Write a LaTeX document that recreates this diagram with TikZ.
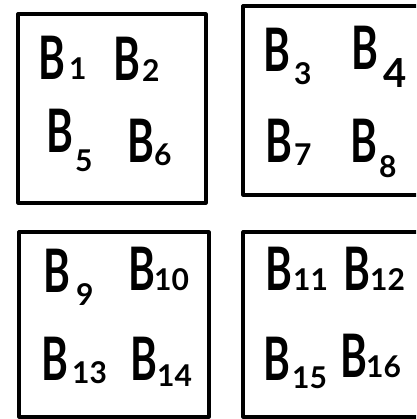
\documentclass[tikz,border=0pt]{standalone}
\usepackage{fontspec}
\setmainfont{Lato}
\usepackage{graphicx}
\tikzset{
  boxline/.style={line width=3.2pt, line join=round, line cap=round},
  bletter/.style={inner sep=0pt, anchor=base west, font=\bfseries\fontsize{60}{60}\selectfont},
  bsub/.style={inner sep=0pt, anchor=base west, font=\bfseries\fontsize{30}{30}\selectfont},
}
\newcommand{\Bl}{\scalebox{0.68}[1]{B}}
\begin{document}
\begin{tikzpicture}[x=1pt,y=-1pt]
\useasboundingbox (0,0) rectangle (416,419);
\clip (0,0) rectangle (416,419);
% boxes
\draw[boxline] (18,14) rectangle (206,203);
\draw[boxline] (243,6) rectangle (430,195);
\draw[boxline] (19,232) rectangle (209,417);
\draw[boxline] (243,232) rectangle (430,417);
% box 1
\node[bletter] (b1) at (38,80) {\Bl};
\node[bsub] (s1) at (69,80) {1};
\node[bletter] (b2) at (113,81) {\Bl};
\node[bsub] (s2) at (142,82) {2};
\node[bletter] (b5) at (46,153) {\Bl};
\node[bsub] (s5) at (75,172) {5};
\node[bletter] (b6) at (127,163) {\Bl};
\node[bsub] (s6) at (154,166) {6};
% box 2
\node[bletter] (b3) at (263,72) {\Bl};
\node[bsub] (s3) at (294,85) {3};
\node[bletter] (b4) at (351,70) {\Bl};
\node[bsub, font=\bfseries\fontsize{40}{40}\selectfont] (s4) at (383,88) {4};
\node[bletter] (b7) at (265,163) {\Bl};
\node[bsub] (s7) at (294,166) {7};
\node[bletter] (b8) at (350,163) {\Bl};
\node[bsub] (s8) at (379,178) {8};
% box 3
\node[bletter] (b9) at (43,292) {\Bl};
\node[bsub] (s9) at (76,305) {9};
\node[bletter] (b10) at (128,290) {\Bl};
\node[bsub] (s10) at (154,290) {10};
\node[bletter] (b13) at (41,380) {\Bl};
\node[bsub] (s13) at (72,383) {13};
\node[bletter] (b14) at (130,380) {\Bl};
\node[bsub] (s14) at (157,386) {14};
% box 4
\node[bletter] (b11) at (265,290) {\Bl};
\node[bsub] (s11) at (293,290) {11};
\node[bletter] (b12) at (343,290) {\Bl};
\node[bsub] (s12) at (370,290) {12};
\node[bletter] (b15) at (263,380) {\Bl};
\node[bsub] (s15) at (292,388) {15};
\node[bletter] (b16) at (340,377) {\Bl};
\node[bsub] (s16) at (366,377) {16};
\end{tikzpicture}
\end{document}
